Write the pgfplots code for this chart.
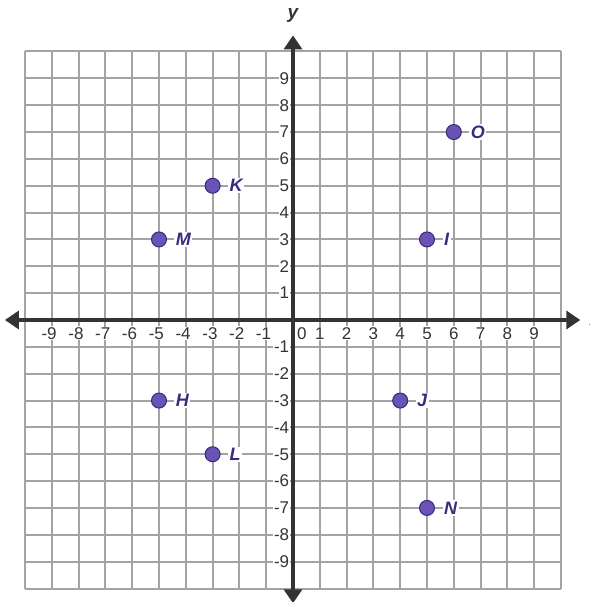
\documentclass[border=0pt]{standalone}
\usepackage{pgfplots}
\pgfplotsset{compat=1.18}
\usepackage{fontspec}
\setmainfont{Liberation Sans}
\usetikzlibrary{arrows.meta}
\definecolor{gridgray}{HTML}{A3A3A3}
\definecolor{axiscol}{HTML}{333333}
\definecolor{ptfill}{HTML}{6B52B5}
\definecolor{ptdraw}{HTML}{3A2A7F}
\definecolor{lblcol}{HTML}{3A2A80}
\pgfplotstableread{
x y label
-3 5 K
-5 3 M
6 7 O
5 3 I
-5 -3 H
-3 -5 L
4 -3 J
5 -7 N
}\pts
\begin{document}
\begin{tikzpicture}
\begin{axis}[anchor=origin, at={(0pt,0pt)}, x=26.8pt, y=26.85pt,
  xmin=-10, xmax=10, ymin=-10, ymax=10,
  xtick={-10,...,10}, ytick={-10,...,10},
  xticklabels={}, yticklabels={},
  tick label style={text opacity=0, opacity=0},
  major tick length=0pt,
  grid=major, grid style={draw=gridgray, line width=2pt},
  axis line style={draw=none},
  clip=false]
\draw[line width=3.5pt, axiscol, {Triangle[length=14pt,width=18pt]}-{Triangle[length=14pt,width=18pt]}] (axis cs:-10.75,0) -- (axis cs:10.72,0);
\draw[line width=3.5pt, axiscol, {Triangle[length=14pt,width=18pt]}-{Triangle[length=14pt,width=18pt]}] (axis cs:0,-10.55) -- (axis cs:0,10.6);
\pgfplotsinvokeforeach{-9,...,-1}{
  \node[fill=white, inner sep=1pt, text=axiscol, font=\fontsize{17}{17}\selectfont] at (axis cs:#1-0.1,-0.5) {#1};
}
\pgfplotsinvokeforeach{1,...,9}{
  \node[fill=white, inner sep=1pt, text=axiscol, font=\fontsize{17}{17}\selectfont] at (axis cs:#1,-0.5) {#1};
}
\node[fill=white, inner sep=1pt, text=axiscol, font=\fontsize{17}{17}\selectfont] at (axis cs:0.33,-0.5) {0};
\pgfplotsinvokeforeach{-9,...,-1,1,2,...,9}{
  \node[fill=white, inner sep=1pt, anchor=east, text=axiscol, font=\fontsize{17}{17}\selectfont] at (axis cs:-0.1,#1) {#1};
}
\node[text=axiscol, font=\fontsize{19}{19}\selectfont\bfseries\itshape] at (axis cs:0,11.36) {y};
\node[text=axiscol, font=\fontsize{19}{19}\selectfont\bfseries\itshape, anchor=west] at (axis cs:10.95,0) {x};
\addplot[only marks, mark=*, mark size=7.5pt, mark options={fill=ptfill, draw=ptdraw, line width=1pt},
  nodes near coords, point meta=explicit symbolic,
  nodes near coords style={anchor=west, xshift=15pt, fill=white, inner sep=1.5pt, text=lblcol, font=\fontsize{18}{18}\selectfont\bfseries\itshape}]
  table[x=x, y=y, meta=label] {\pts};
\end{axis}
\pgfresetboundingbox
\path (-293pt,-282pt) rectangle (296pt,320pt);
\end{tikzpicture}
\end{document}
